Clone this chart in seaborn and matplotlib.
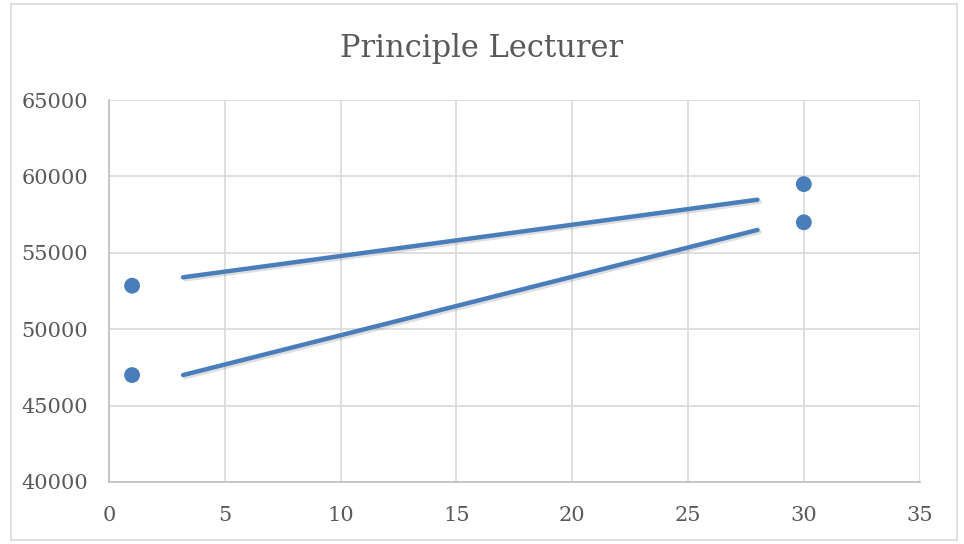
import numpy as np
import pandas as pd
import matplotlib
matplotlib.use("Agg")
import matplotlib.pyplot as plt
import matplotlib.patheffects as pe
from matplotlib.patches import Rectangle
import seaborn as sns

# observed points
point_x = [1, 1, 30, 30]
point_y = [52850, 47000, 59500, 57000]

# trend lines (start / end)
line_names = ["upper", "upper", "lower", "lower"]
line_x = [3.2, 28.0, 3.2, 28.0]
line_y = [53400, 58480, 47000, 56500]

x_ticks = [0, 5, 10, 15, 20, 25, 30, 35]
y_ticks = [40000, 45000, 50000, 55000, 60000, 65000]

blue = "#4a7ebb"

sns.set_style("white")
plt.rcParams["font.family"] = ["DejaVu Serif"]

pts = pd.DataFrame({"x": point_x, "y": point_y})
lines = pd.DataFrame({"line": line_names, "x": line_x, "y": line_y})

fig, ax = plt.subplots(figsize=(9.64, 5.44), dpi=100)
fig.subplots_adjust(left=0.113, right=0.954, top=0.816, bottom=0.114)

sns.lineplot(data=lines, x="x", y="y", units="line", estimator=None,
             color=blue, lw=3.2, ax=ax, legend=False,
             path_effects=[pe.SimpleLineShadow(offset=(1.5, -1.5), alpha=0.25, shadow_color="gray"),
                           pe.Normal()])
sns.scatterplot(data=pts, x="x", y="y", color=blue, s=130, edgecolor="none",
                ax=ax, legend=False, zorder=3)

ax.set_xlim(0, 35)
ax.set_ylim(40000, 65000)
ax.set_xticks(x_ticks)
ax.set_yticks(y_ticks)
ax.grid(True, color="#d9d9d9", lw=1.2)
ax.set_axisbelow(True)
for side in ["top", "right"]:
    ax.spines[side].set_visible(False)
for side in ["left", "bottom"]:
    ax.spines[side].set_color("#bfbfbf")
    ax.spines[side].set_linewidth(1.2)
ax.tick_params(axis="both", labelsize=15, colors="#595959", length=0)
ax.tick_params(axis="x", pad=17)
ax.tick_params(axis="y", pad=15)
ax.set_xlabel("")
ax.set_ylabel("")
fig.text(0.5, 0.91, "Principle Lecturer", fontsize=22, color="#595959",
         ha="center", va="center")

fig.patches.append(Rectangle((0.011, 0.008), 0.982, 0.985, transform=fig.transFigure,
                             fill=False, edgecolor="#d9d9d9", lw=1.2))

fig.savefig("out.png", dpi=100)
